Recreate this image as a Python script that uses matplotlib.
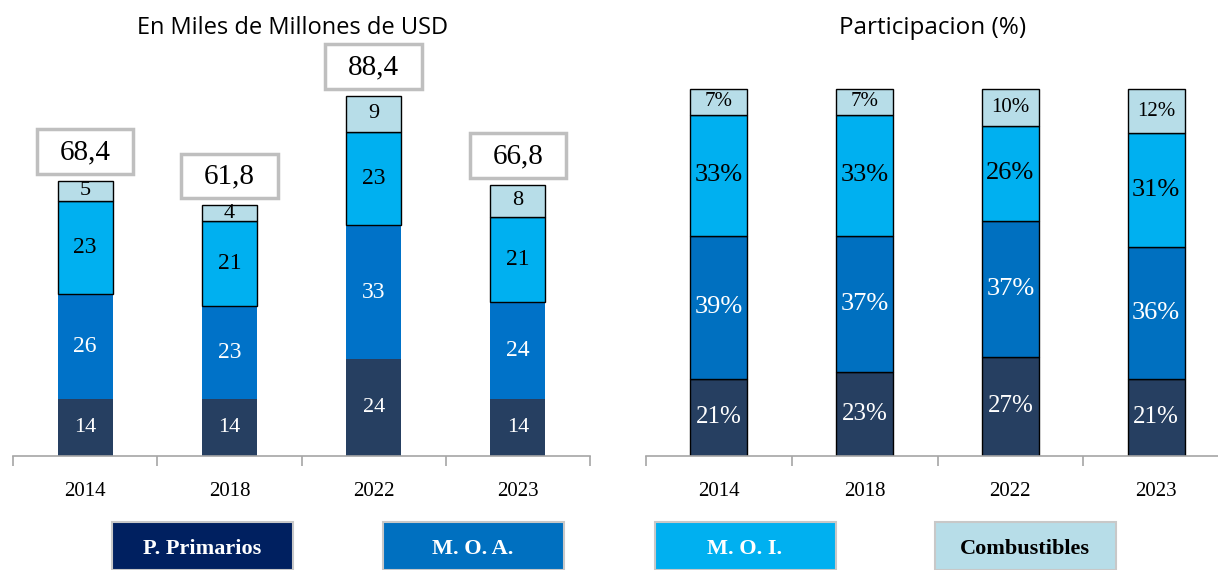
import numpy as np
import matplotlib.pyplot as plt
from matplotlib.patches import Rectangle

years = ["2014", "2018", "2022", "2023"]

# En miles de millones de USD
primarios = [14, 14, 24, 14]
moa = [26, 23, 33, 24]
moi = [23, 21, 23, 21]
comb = [5, 4, 9, 8]
totals = [68.4, 61.8, 88.4, 66.8]

# Participacion (%)
pct_primarios = [21, 23, 27, 21]
pct_moa = [39, 37, 37, 36]
pct_moi = [33, 33, 26, 31]
pct_comb = [7, 7, 10, 12]

legend_names = ["P. Primarios", "M. O. A.", "M. O. I.", "Combustibles"]

C_PRIM = "#263f61"
C_MOA = "#0072c8"
C_MOI = "#00b0f0"
C_COMB = "#b7dde8"
LEG_COLORS = ["#002060", "#0070c0", "#00b0f0", "#b7dde8"]
SERIF = ["Liberation Serif", "DejaVu Serif"]

fig = plt.figure(figsize=(12.18, 5.70), dpi=100)
W, H = 1218, 570

def px_axes(x0, x1, y_top, y_bot):
    return fig.add_axes([x0 / W, 1 - y_bot / H, (x1 - x0) / W, (y_bot - y_top) / H])

ax1 = px_axes(13, 590, 60, 456)
ax2 = px_axes(646, 1229, 60, 456)

def style_ax(ax, ymax):
    ax.set_xlim(-0.5, 3.5)
    ax.set_ylim(0, ymax)
    for s in ["top", "right", "left"]:
        ax.spines[s].set_visible(False)
    ax.spines["bottom"].set_color("#a6a6a6")
    ax.spines["bottom"].set_linewidth(1.2)
    ax.set_yticks([])
    ax.set_xticks(range(4))
    ax.set_xticklabels(years, fontsize=15, family=SERIF)
    ax.tick_params(axis="x", which="major", length=0, pad=19)
    ax.set_xticks(np.arange(-0.5, 4, 1), minor=True)
    ax.tick_params(axis="x", which="minor", length=7, width=1.2, color="#a6a6a6")
    ax.set_facecolor("none")

def stack(ax, series, colors, edges, txtcolors, sizes, fmt, width):
    x = np.arange(len(years))
    bottom = np.zeros(len(years))
    for vals, col, ec, tc, fs in zip(series, colors, edges, txtcolors, sizes):
        vals = np.array(vals, dtype=float)
        ax.bar(x, vals, width, bottom=bottom, color=col,
               edgecolor=ec if ec else col, linewidth=1.0 if ec else 0, zorder=2)
        for xi, b, v in zip(x, bottom, vals):
            ax.text(xi, b + v / 2, fmt(v), ha="center", va="center",
                    color=tc, fontsize=fs, family=SERIF, zorder=4)
        bottom += vals
    return bottom

# left chart
top1 = stack(ax1, [primarios, moa, moi, comb], [C_PRIM, C_MOA, C_MOI, C_COMB],
             [None, None, "black", "black"], ["white", "white", "black", "black"],
             [16, 17, 17, 16], lambda v: f"{v:.0f}", 0.38)
style_ax(ax1, 97.8)
for i, (t, tot) in enumerate(zip(top1, totals)):
    y0 = t + 1.6
    ax1.add_patch(Rectangle((i - 0.335, y0), 0.67, 11.1, facecolor="white",
                            edgecolor="#bfbfbf", linewidth=2.5, clip_on=False, zorder=3))
    ax1.text(i, y0 + 5.5, f"{tot:.1f}".replace(".", ","), ha="center", va="center",
             fontsize=21, family=SERIF, zorder=4, clip_on=False)

# right chart
stack(ax2, [pct_primarios, pct_moa, pct_moi, pct_comb], [C_PRIM, "#0070c0", C_MOI, C_COMB],
      ["black"] * 4, ["white", "white", "black", "black"],
      [18, 19, 19, 15], lambda v: f"{v:.0f}%", 0.39)
style_ax(ax2, 107.9)

fig.text(293 / W, 1 - 28 / H, "En Miles de Millones de USD", ha="center", va="center",
         fontsize=17, family=["Open Sans", "DejaVu Sans"])
fig.text(933 / W, 1 - 28 / H, "Participacion (%)", ha="center", va="center",
         fontsize=17.5, family=["Open Sans", "DejaVu Sans"])

# legend boxes
leg_x = [112, 383, 655, 935]
for name, x0, col in zip(legend_names, leg_x, LEG_COLORS):
    fig.patches.append(Rectangle((x0 / W, 0), 181 / W, 48 / H, transform=fig.transFigure,
                                 facecolor=col, edgecolor="#c8c8c8", linewidth=1.5))
    fig.text((x0 + 90) / W, 1 - 549 / H, name, ha="center", va="center",
             fontsize=16, fontweight="bold", family=SERIF,
             color="black" if name == "Combustibles" else "white")

fig.savefig("out.png", dpi=100)
